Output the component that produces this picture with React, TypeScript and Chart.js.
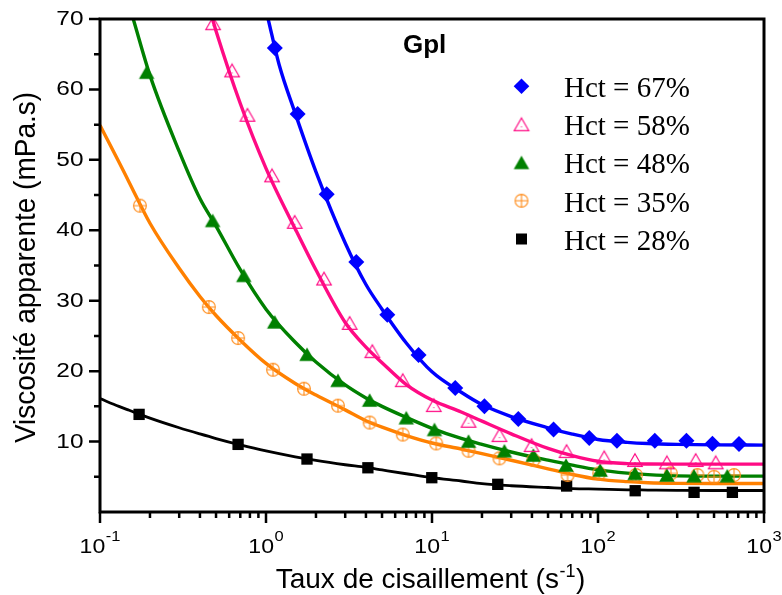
import React, { useEffect, useRef } from 'react';
import { Chart, registerables } from 'chart.js';

Chart.register(...registerables);

const W = 782;
const H = 595;

// ---- axes / ticks ----
const xMajorTicks = [0.1, 1, 10, 100, 1000];
const xTickExponents = ['-1', '0', '1', '2', '3'];
const xMinorMultipliers = [2, 3, 4, 5, 6, 7, 8, 9];
const yMajorTicks = [10, 20, 30, 40, 50, 60, 70];
const yTickLabels = ['10', '20', '30', '40', '50', '60', '70'];
const yMinorTicks = [5, 15, 25, 35, 45, 55, 65];

const seriesLabels = ['Hct = 67%', 'Hct = 58%', 'Hct = 48%', 'Hct = 35%', 'Hct = 28%'];
const panelLabel = 'Gpl';

// ---- measured points ----
const hct67X = [1.13, 1.55, 2.32, 3.5, 5.38, 8.3, 13.8, 20.7, 33.1, 54.0, 88.6, 130, 220, 341, 489, 707];
const hct67Y = [65.9, 56.5, 45.1, 35.5, 28.0, 22.3, 17.6, 15.0, 13.2, 11.7, 10.5, 10.1, 10.1, 10.1, 9.7, 9.65];

const hct58X = [0.48, 0.625, 0.773, 1.087, 1.489, 2.236, 3.19, 4.37, 6.67, 10.25, 16.6, 25.5, 39.8, 64.7, 109, 167, 260, 388, 512];
const hct58Y = [69.4, 62.7, 56.4, 47.8, 41.2, 33.15, 26.85, 22.84, 18.72, 15.18, 12.95, 10.92, 9.5, 8.65, 7.76, 7.38, 7.05, 7.38, 7.05];

const hct48X = [0.191, 0.477, 0.735, 1.129, 1.766, 2.713, 4.21, 7.0, 10.35, 16.6, 27.3, 40.8, 64.2, 103, 167, 260, 379, 601];
const hct48Y = [62.45, 41.4, 33.6, 27.0, 22.4, 18.7, 15.9, 13.4, 11.73, 10.07, 8.7, 8.09, 6.67, 5.96, 5.49, 5.25, 5.15, 5.15];

const hct35X = [0.174, 0.4525, 0.679, 1.102, 1.694, 2.713, 4.21, 6.67, 10.6, 16.6, 25.5, 40.8, 65.6, 101.7, 169, 275, 397, 500, 660];
const hct35Y = [43.5, 29.1, 24.7, 20.2, 17.5, 15.1, 12.7, 11.0, 9.74, 8.7, 7.62, 7.38, 5.25, 5.49, 5.25, 5.49, 5.25, 5.0, 5.25];

const hct28X = [0.172, 0.679, 1.766, 4.11, 9.97, 24.9, 64.7, 167.5, 379, 645];
const hct28Y = [13.86, 9.6, 7.52, 6.28, 4.87, 3.93, 3.69, 3.02, 2.79, 2.79];

// ---- fitted curves ----
const fit67X = [1.03, 1.2, 1.5, 2, 3, 4, 5, 7, 10, 15, 20, 30, 50, 70, 100, 150, 200, 300, 500, 1000];
const fit67Y = [70, 63.5, 56.6, 48.3, 38.2, 32.3, 28.8, 24.0, 19.9, 17.0, 15.25, 13.55, 11.96, 11.06, 10.3, 9.89, 9.72, 9.6, 9.53, 9.5];

const fit58X = [0.476, 0.5, 0.7, 1, 1.5, 2, 3, 4, 5, 7, 10, 15, 20, 30, 50, 70, 100, 150, 200, 300, 500, 1000];
const fit58Y = [70, 68.3, 58.0, 48.8, 40.2, 34.35, 26.9, 23.4, 21.2, 18.1, 15.9, 14.2, 12.9, 11.1, 9.02, 7.99, 7.2, 6.87, 6.81, 6.8, 6.8, 6.8];

const fit48X = [0.1586, 0.2, 0.3, 0.4, 0.5, 0.7, 1, 1.5, 2, 3, 4, 5, 7, 10, 15, 20, 30, 50, 70, 100, 150, 200, 300, 500, 1000];
const fit48Y = [70, 62.0, 51.2, 44.5, 40.6, 34.4, 28.8, 24.1, 21.3, 18.05, 16.2, 15.0, 13.43, 11.88, 10.44, 9.6, 8.52, 7.36, 6.65, 5.99, 5.52, 5.3, 5.13, 5.1, 5.1];

const fit35X = [0.1, 0.13, 0.15, 0.2, 0.3, 0.4, 0.5, 0.7, 1, 1.5, 2, 3, 4, 5, 7, 10, 15, 20, 30, 50, 70, 100, 150, 200, 300, 500, 1000];
const fit35Y = [54.9, 49.7, 46.8, 41.0, 34.6, 30.6, 27.9, 24.4, 21.1, 18.25, 16.6, 14.5, 12.96, 12.04, 10.86, 9.8, 8.94, 8.28, 7.35, 6.13, 5.33, 4.67, 4.31, 4.16, 4.07, 4.04, 4.04];

const fit28X = [0.1, 0.13, 0.15, 0.2, 0.3, 0.4, 0.5, 0.7, 1, 1.5, 2, 3, 4, 5, 7, 10, 15, 20, 30, 50, 70, 100, 150, 200, 300, 500, 1000];
const fit28Y = [16.1, 15.0, 14.44, 13.33, 11.96, 11.08, 10.43, 9.53, 8.67, 7.83, 7.32, 6.71, 6.33, 5.97, 5.43, 4.87, 4.4, 4.03, 3.73, 3.48, 3.33, 3.25, 3.15, 3.12, 3.08, 3.05, 3.05];

const BLUE = '#0000FF';
const PINK = '#FF0A84';
const GREEN = '#008000';
const ORANGE_LINE = '#FF8000';
const ORANGE_MARK = '#FF8C1A';
const BLACK = '#000000';

const SANS = '"Liberation Sans", Arial, sans-serif';
const SERIF = '"Liberation Serif", "Times New Roman", serif';

const pts = (xs: number[], ys: number[]) => xs.map((x, i) => ({ x, y: ys[i] }));

function makeCanvas(w: number, h: number, draw: (g: CanvasRenderingContext2D) => void) {
  const c = document.createElement('canvas');
  c.width = w;
  c.height = h;
  const g = c.getContext('2d')!;
  draw(g);
  return c;
}

function App() {
  const ref = useRef<HTMLCanvasElement | null>(null);

  useEffect(() => {
    if (!ref.current) return;

    const pinkTri = makeCanvas(18, 16, (g) => {
      const s = 14.5, h = s * 0.866;
      const cx = 9, top = 8 - h / 2;
      g.strokeStyle = PINK;
      g.lineWidth = 1.2;
      g.beginPath();
      g.moveTo(cx, top);
      g.lineTo(cx + s / 2, top + h);
      g.lineTo(cx - s / 2, top + h);
      g.closePath();
      g.stroke();
      g.fillStyle = PINK;
      g.fillRect(cx - 0.5, top + h * 0.66, 1, 1);
    });
    const greenTri = makeCanvas(20, 18, (g) => {
      const s = 15.5, h = s * 0.866;
      const cx = 10, top = 9 - h / 2;
      g.fillStyle = GREEN;
      g.beginPath();
      g.moveTo(cx, top);
      g.lineTo(cx + s / 2, top + h);
      g.lineTo(cx - s / 2, top + h);
      g.closePath();
      g.fill();
    });
    const orangeCross = makeCanvas(16, 16, (g) => {
      g.strokeStyle = ORANGE_MARK;
      g.lineWidth = 1.1;
      g.beginPath();
      g.arc(8, 8, 6.4, 0, Math.PI * 2);
      g.moveTo(8, 1.6);
      g.lineTo(8, 14.4);
      g.moveTo(1.6, 8);
      g.lineTo(14.4, 8);
      g.stroke();
    });

    const drawMarker = (ctx: CanvasRenderingContext2D, i: number, cx: number, cy: number) => {
      if (i === 0) {
        ctx.fillStyle = BLUE;
        ctx.beginPath();
        ctx.moveTo(cx, cy - 7.8);
        ctx.lineTo(cx + 7.8, cy);
        ctx.lineTo(cx, cy + 7.8);
        ctx.lineTo(cx - 7.8, cy);
        ctx.closePath();
        ctx.fill();
      } else if (i === 1) {
        ctx.drawImage(pinkTri, cx - pinkTri.width / 2, cy - pinkTri.height / 2);
      } else if (i === 2) {
        ctx.drawImage(greenTri, cx - greenTri.width / 2, cy - greenTri.height / 2);
      } else if (i === 3) {
        ctx.drawImage(orangeCross, cx - orangeCross.width / 2, cy - orangeCross.height / 2);
      } else {
        ctx.fillStyle = BLACK;
        ctx.fillRect(cx - 5.5, cy - 5.5, 11, 11);
      }
    };

    const decor = {
      id: 'decor',
      afterDraw(chart: any) {
        const ctx: CanvasRenderingContext2D = chart.ctx;
        const { left, right, top, bottom } = chart.chartArea;
        const xs = chart.scales.x;
        const ys = chart.scales.y;
        ctx.save();
        // frame
        ctx.strokeStyle = '#000';
        ctx.lineWidth = 3;
        ctx.strokeRect(left, top, right - left, bottom - top);
        // ticks
        ctx.lineWidth = 2.5;
        ctx.beginPath();
        for (const v of yMajorTicks) {
          const y = ys.getPixelForValue(v);
          ctx.moveTo(left, y);
          ctx.lineTo(left - 11, y);
        }
        for (const v of yMinorTicks) {
          const y = ys.getPixelForValue(v);
          ctx.moveTo(left, y);
          ctx.lineTo(left - 6, y);
        }
        for (const v of xMajorTicks) {
          const x = xs.getPixelForValue(v);
          ctx.moveTo(x, bottom);
          ctx.lineTo(x, bottom + 11);
        }
        for (let d = 0; d < xMajorTicks.length - 1; d++) {
          for (const m of xMinorMultipliers) {
            const x = xs.getPixelForValue(xMajorTicks[d] * m);
            ctx.moveTo(x, bottom);
            ctx.lineTo(x, bottom + 6);
          }
        }
        ctx.stroke();

        ctx.fillStyle = '#000';
        // y tick labels
        ctx.font = `20px ${SANS}`;
        ctx.textAlign = 'right';
        ctx.textBaseline = 'middle';
        yMajorTicks.forEach((v, i) => {
          const y = ys.getPixelForValue(v);
          ctx.save();
          ctx.translate(83.5, y + 0.5);
          ctx.scale(1.22, 1);
          ctx.fillText(yTickLabels[i], 0, 0);
          ctx.restore();
        });
        // x tick labels with superscripts
        ctx.textAlign = 'left';
        ctx.textBaseline = 'alphabetic';
        const sx = 1.1;
        xMajorTicks.forEach((v, i) => {
          const x = xs.getPixelForValue(v);
          ctx.font = `21px ${SANS}`;
          const wb = ctx.measureText('10').width;
          ctx.font = `15px ${SANS}`;
          const we = ctx.measureText(xTickExponents[i]).width;
          const total = (wb + we + 0.5) * sx;
          const x0 = x - total / 2;
          ctx.save();
          ctx.translate(x0, 552.5);
          ctx.scale(sx, 1);
          ctx.font = `21px ${SANS}`;
          ctx.fillText('10', 0, 0);
          ctx.font = `15px ${SANS}`;
          ctx.fillText(xTickExponents[i], wb + 0.5, -11.5);
          ctx.restore();
        });

        // x axis title
        const t1 = 'Taux de cisaillement (s';
        const t2 = '-1';
        const t3 = ')';
        ctx.font = `28px ${SANS}`;
        const w1 = ctx.measureText(t1).width;
        const w3 = ctx.measureText(t3).width;
        ctx.font = `18px ${SANS}`;
        const w2 = ctx.measureText(t2).width;
        const tot = w1 + w2 + w3 + 1;
        const tx = 430.5 - tot / 2;
        ctx.font = `28px ${SANS}`;
        ctx.fillText(t1, tx, 588);
        ctx.font = `18px ${SANS}`;
        ctx.fillText(t2, tx + w1 + 0.5, 577);
        ctx.font = `28px ${SANS}`;
        ctx.fillText(t3, tx + w1 + w2 + 1, 588);

        // y axis title
        ctx.save();
        ctx.translate(35, 267.5);
        ctx.rotate(-Math.PI / 2);
        ctx.scale(1, 1.08);
        ctx.font = `28px ${SANS}`;
        ctx.textAlign = 'center';
        ctx.textBaseline = 'alphabetic';
        ctx.fillText('Viscosité apparente (mPa.s)', 0, 0);
        ctx.restore();

        // panel label
        ctx.font = `bold 26px ${SANS}`;
        ctx.textAlign = 'left';
        ctx.textBaseline = 'alphabetic';
        ctx.fillText(panelLabel, 403, 52.5);

        // legend
        const baselines = [97.3, 135.3, 173.4, 211.7, 250];
        ctx.font = `29px ${SERIF}`;
        seriesLabels.forEach((lab, i) => {
          drawMarker(ctx, i, 521.5, baselines[i] - 11);
          ctx.fillStyle = '#000';
          ctx.fillText(lab, 564, baselines[i]);
        });
        ctx.restore();
      },
    };

    const lineDs = (xs: number[], ys: number[], color: string, width: number) => ({
      data: pts(xs, ys),
      showLine: true,
      borderColor: color,
      borderWidth: width,
      pointRadius: 0,
      pointHoverRadius: 0,
      cubicInterpolationMode: 'monotone' as const,
      fill: false,
      order: 1,
    });

    const chart = new Chart(ref.current, {
      type: 'scatter',
      data: {
        datasets: [
          { label: seriesLabels[0], data: pts(hct67X, hct67Y), pointStyle: 'rectRot', pointRadius: 8, pointBackgroundColor: BLUE, pointBorderColor: BLUE, pointBorderWidth: 0, order: 0 },
          { label: seriesLabels[1], data: pts(hct58X, hct58Y), pointStyle: pinkTri, pointRadius: 7, order: 0 },
          { label: seriesLabels[2], data: pts(hct48X, hct48Y), pointStyle: greenTri, pointRadius: 7, order: 0 },
          { label: seriesLabels[3], data: pts(hct35X, hct35Y), pointStyle: orangeCross, pointRadius: 7, order: 0 },
          { label: seriesLabels[4], data: pts(hct28X, hct28Y), pointStyle: 'rect', pointRadius: 8, pointBackgroundColor: BLACK, pointBorderColor: BLACK, pointBorderWidth: 0, order: 0 },
          lineDs(fit67X, fit67Y, BLUE, 3.4),
          lineDs(fit58X, fit58Y, PINK, 3.4),
          lineDs(fit48X, fit48Y, GREEN, 3.4),
          lineDs(fit35X, fit35Y, ORANGE_LINE, 3.4),
          lineDs(fit28X, fit28Y, BLACK, 2.8),
        ] as any,
      },
      options: {
        responsive: false,
        animation: false,
        devicePixelRatio: 1,
        layout: { padding: { left: 100, right: 18, top: 19, bottom: 83 } },
        scales: {
          x: { type: 'logarithmic', min: 0.1, max: 1000, display: false },
          y: { type: 'linear', min: 0, max: 70, display: false },
        },
        plugins: {
          legend: { display: false },
          tooltip: { enabled: false },
        },
      },
      plugins: [decor],
    });

    return () => chart.destroy();
  }, []);

  return (
    <div style={{ position: 'fixed', left: 0, top: 0, width: W, height: H, background: '#fff' }}>
      <canvas ref={ref} width={W} height={H} style={{ display: 'block', width: W, height: H }} />
    </div>
  );
}

export default App;
